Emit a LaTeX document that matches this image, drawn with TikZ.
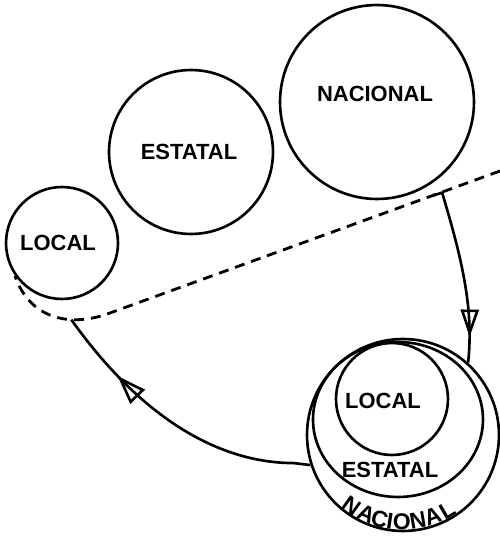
\documentclass[tikz,border=0pt]{standalone}
\usepackage{fontspec}
\setmainfont{Liberation Sans}
\usetikzlibrary{arrows.meta,decorations.markings,shapes.geometric}

\begin{document}
\begin{tikzpicture}[x=0.02cm, y=0.02cm, line width=1.5pt]
    \tikzstyle{ring} = [circle, draw, inner sep=0pt]
    \tikzstyle{tag} = [inner sep=0pt, font=\fontsize{12.5}{15}\selectfont\bfseries]
    \tikzstyle{route} = [dash pattern=on 0.2cm off 0.14cm, line width=1.6pt]
    \tikzstyle{flow} = [postaction={decorate}]
    \useasboundingbox (0,0) rectangle (500,539);
    \foreach \nm/\x/\y/\d/\tx/\ty/\txt in {nac/377/437/3.88/375/445/NACIONAL, est/191/387/3.28/189/387/ESTATAL, loc/62/296/2.24/58/296/LOCAL} {
        \node[ring, minimum size=\d cm] (\nm) at (\x,\y) {};
        \node[tag] (\nm-txt) at (\tx,\ty) {\txt};
    }
    \node[ring, minimum size=3.84cm] (bnac) at (403,104) {};
    \node[ellipse, draw, inner sep=0pt, minimum width=3.4cm, minimum height=3.1cm] (best) at (398,119.5) {};
    \node[ring, minimum size=2.24cm] (bloc) at (392,140) {};
    \node[tag] (bloc-txt) at (383,138) {LOCAL};
    \node[tag] (best-txt) at (390,69) {ESTATAL};
    \foreach \c/\a [count=\i] in {N/-125.7, A/-114.8, C/-105.5, I/-98.6, O/-90.7, N/-80.1, A/-70.1, L/-59.4} {
        \node[tag, font=\fontsize{13}{15}\selectfont\bfseries, rotate=\a+90] (bnac-\i) at ([shift={(\a:1.74cm)}]bnac.center) {\c};
    }
    \draw[route] (500,368) -- coordinate[pos=0.174] (split) (110,226)
        .. controls (70,211) and (30,220) .. coordinate[pos=0.33] (hook) (15,263);
    \draw[flow, decoration={markings, mark=at position 0.86 with {\arrow{Triangle[open, length=0.55cm, width=0.36cm]}}}]
        (split) -- ++(10,3) .. controls (462,280) and (474,230) .. (bnac.48);
    \draw[flow, decoration={markings, mark=at position 0.75 with {\arrow{Triangle[open, length=0.58cm, width=0.4cm]}}}]
        (bnac.198) -- ++(-17,2) .. controls (230,76) and (150,109) .. (hook);
\end{tikzpicture}
\end{document}
